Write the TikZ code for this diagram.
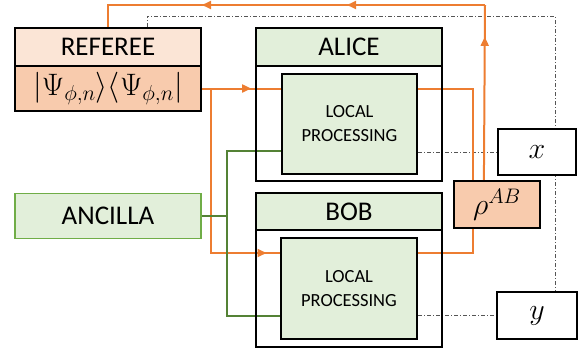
\RequirePackage{fix-cm}
\documentclass[tikz,border=0pt]{standalone}
\usepackage{fontspec}
\setmainfont{Carlito}
\usetikzlibrary{arrows.meta,decorations.markings}
\definecolor{oran}{HTML}{ED7D31}
\definecolor{grn}{HTML}{548235}
\definecolor{grnb}{HTML}{70AD47}
\definecolor{grnf}{HTML}{E2EFDA}
\definecolor{peach}{HTML}{FBE5D6}
\definecolor{peachd}{HTML}{F8CBAD}
\definecolor{ddgray}{HTML}{555555}
\pgfdeclarelayer{background}
\pgfsetlayers{background,main}
\tikzset{
  blk/.style={draw=black, line width=2.2pt, inner sep=0pt, anchor=center},
  big/.style={font=\fontsize{27}{30}\selectfont},
  bigm/.style={font=\fontsize{30}{34}\selectfont},
  small/.style={font=\fontsize{18.5}{24}\selectfont, align=center},
  oline/.style={draw=oran, line width=2pt},
  gline/.style={draw=grn, line width=1.8pt},
  ddline/.style={draw=ddgray, line width=0.8pt, dash pattern=on 4pt off 2pt on 1pt off 2pt},
  tip/.style={postaction={decorate}, decoration={markings, mark=at position #1 with {\arrow[oran]{Triangle[length=9pt,width=8pt]}}}},
  tiptwo/.style 2 args={postaction={decorate}, decoration={markings,
     mark=at position #1 with {\arrow[oran]{Triangle[length=9pt,width=8pt]}},
     mark=at position #2 with {\arrow[oran]{Triangle[length=9pt,width=8pt]}}}},
}
\begin{document}
\begin{tikzpicture}[x=1pt,y=-1pt]
\useasboundingbox (0,0) rectangle (581,351);
% boxes
\node[blk, fill=peach, big, minimum width=186pt, minimum height=38pt] (refhead) at (108,47) {REFEREE};
\node[blk, fill=peachd, font=\fontsize{31}{34}\selectfont, minimum width=186pt, minimum height=45pt] (refstate) at (108,88.5) {$|\Psi_{\phi,n}\rangle\langle\Psi_{\phi,n}|$};
\node[blk, minimum width=186pt, minimum height=115pt] (alicebox) at (349,123.5) {};
\node[blk, fill=grnf, big, minimum width=186pt, minimum height=38pt] (alicehead) at (349,47) {ALICE};
\node[blk, fill=grnf, small, minimum width=135pt, minimum height=100pt] (aliceproc) at (349.5,124) {LOCAL\\PROCESSING};
\node[blk, minimum width=186pt, minimum height=117pt] (bobbox) at (349,288.5) {};
\node[blk, fill=grnf, big, minimum width=186pt, minimum height=37pt] (bobhead) at (349,211.5) {BOB};
\node[blk, fill=grnf, small, minimum width=136pt, minimum height=101pt] (bobproc) at (349,288.5) {LOCAL\\PROCESSING};
\node[draw=grnb, line width=1.4pt, fill=grnf, big, inner sep=0pt, minimum width=186pt, minimum height=45pt] (ancilla) at (108,216) {ANCILLA};
\node[blk, fill=peachd, bigm, minimum width=86pt, minimum height=47pt] (rho) at (497,204.5) {$\rho^{AB}$};
\node[blk, fill=white, bigm, minimum width=78pt, minimum height=46pt] (xbox) at (537,152) {$x$};
\node[blk, fill=white, bigm, minimum width=80pt, minimum height=47pt] (ybox) at (537,315.5) {$y$};
% connectors
\begin{pgfonlayer}{background}
\coordinate (j1) at (211,88.5);
\coordinate (g) at (227,216);
\coordinate (otop) at (485,5);
\coordinate (otl) at (108,5);
\coordinate (d1) at (147,16);
\coordinate (d2) at (555,16);
% dash-dot
\path[ddline] ([xshift=39pt]refhead.north) -- (d1) -- (d2) -- (d2 |- ybox.north);
\path[ddline] (xbox.west -| aliceproc.east) -- (xbox.west);
\path[ddline] (ybox.west -| bobproc.east) -- (ybox.west);
% orange
\path[oline, tip=49pt] (refstate.east) -- (aliceproc.west |- refstate.east);
\path[oline, tip=220pt] (j1) |- ([yshift=35.5pt]bobproc.west);
\path[oline] (aliceproc.east |- refstate.east) -| ([xshift=20pt]rho.north west);
\path[oline] ([yshift=35.5pt]bobproc.east) -| ([xshift=20pt]rho.south west);
\path[oline, tip=143pt] ([xshift=31pt]rho.north west) -- (otop);
\path[oline, tiptwo={138pt}{283pt}] (otop) -- (otl) -- (refhead.north);
% green
\path[gline] (ancilla.east) -- (g);
\path[gline] (g) |- ([yshift=-27pt]aliceproc.west);
\path[gline] (g) |- ([yshift=-27.5pt]bobproc.west);
\end{pgfonlayer}
\end{tikzpicture}
\end{document}
